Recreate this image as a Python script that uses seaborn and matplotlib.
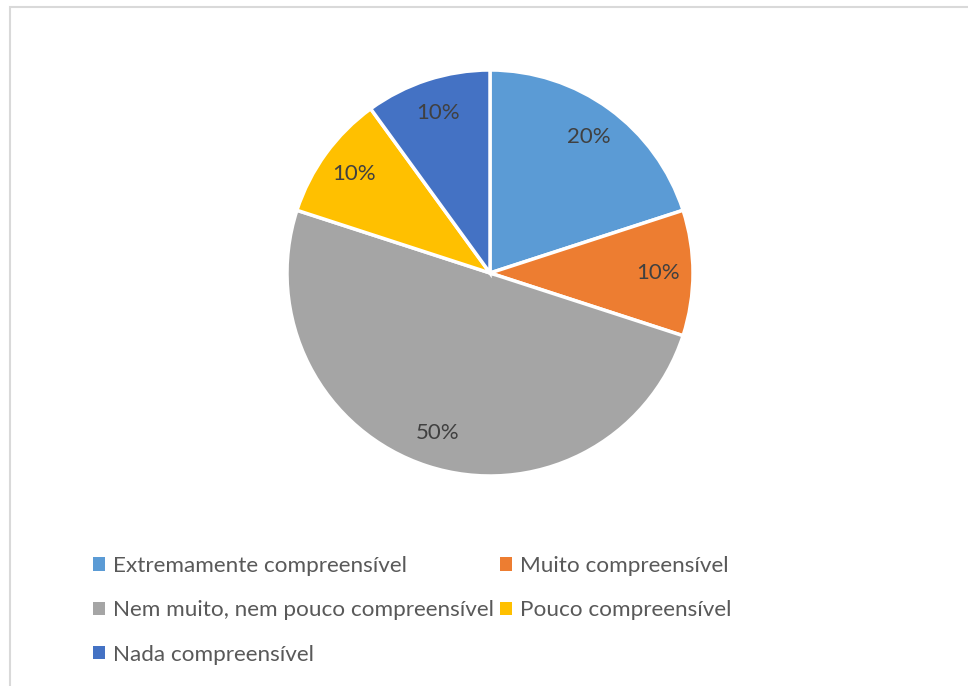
import matplotlib
matplotlib.use("Agg")
import matplotlib.pyplot as plt
from matplotlib.patches import Rectangle, Patch
import seaborn as sns

categories = [
    "Extremamente compreensível",
    "Muito compreensível",
    "Nem muito, nem pouco compreensível",
    "Pouco compreensível",
    "Nada compreensível",
]
shares = [20, 10, 50, 10, 10]
colors = ["#5B9BD5", "#ED7D31", "#A5A5A5", "#FFC000", "#4472C4"]

sns.set_theme(style="white")
plt.rcParams["font.family"] = ["Lato", "DejaVu Sans"]

W, H, DPI = 968, 686, 100
fig = plt.figure(figsize=(W / DPI, H / DPI), dpi=DPI)
fig.patch.set_facecolor("white")

# pie area: centre (490, 273) px, radius ~203 px
cx, cy, r = 490, 273, 203
ax = fig.add_axes([(cx - r) / W, 1 - (cy + r) / H, 2 * r / W, 2 * r / H])
wedges, texts = ax.pie(
    shares,
    colors=colors,
    startangle=90,
    counterclock=False,
    labels=[f"{v}%" for v in shares],
    labeldistance=0.83,
    wedgeprops=dict(edgecolor="white", linewidth=2.5),
    textprops=dict(color="#404040", fontsize=16),
)
for t in texts:
    t.set_ha("center")
    t.set_va("center")
ax.set_aspect("equal")
ax.set_xlim(-1, 1)
ax.set_ylim(-1, 1)
ax.axis("off")

# legend laid out row by row in two columns
order = [0, 2, 4, 1, 3]
handles = [Patch(facecolor=colors[i], edgecolor="none") for i in order]
labels = [categories[i] for i in order]
leg = fig.legend(
    handles,
    labels,
    ncol=2,
    loc="upper left",
    bbox_to_anchor=(93 / W, 1 - 556 / H),
    frameon=False,
    fontsize=16.2,
    handlelength=0.55,
    handleheight=0.55,
    handletextpad=0.35,
    columnspacing=0.25,
    labelspacing=1.08,
    borderaxespad=0,
    borderpad=0,
)
for t in leg.get_texts():
    t.set_color("#595959")

# chart frame (left and top edges visible)
fig.add_artist(Rectangle((10 / W, -0.1), 1.2, 1 - 7 / H + 0.1,
                         transform=fig.transFigure, fill=False,
                         edgecolor="#D9D9D9", linewidth=1.5))

fig.savefig("out.png", dpi=DPI, facecolor="white")
